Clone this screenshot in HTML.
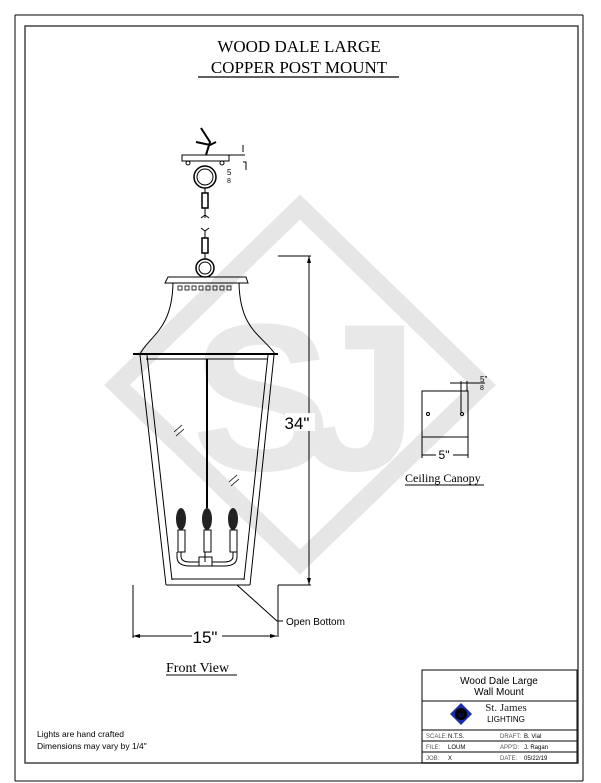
<!DOCTYPE html>
<html><head><meta charset="utf-8"><style>
html,body{margin:0;padding:0;background:#fff;}
svg{display:block;}
</style></head><body>
<svg width="601" height="783" viewBox="0 0 601 783" xmlns="http://www.w3.org/2000/svg" font-family="Liberation Sans, sans-serif">
<!-- watermark -->
<polygon points="300,207 483,385 300,562 117,385" fill="none" stroke="#e6e6e6" stroke-width="18"/>
<text x="290" y="470" text-anchor="middle" font-size="210" font-weight="bold" fill="#e8e8e8" letter-spacing="-30">SJ</text>
<!-- frames -->
<line x1="15" y1="15" x2="583" y2="15" stroke="#000" stroke-width="1"/>
<line x1="15" y1="15" x2="15" y2="781" stroke="#000" stroke-width="1"/>
<line x1="15" y1="781" x2="583" y2="781" stroke="#000" stroke-width="1"/>
<line x1="583" y1="15" x2="583" y2="781" stroke="#000" stroke-width="1"/>
<rect x="25" y="26" width="553" height="737" fill="none" stroke="#444" stroke-width="1.5"/>
<!-- title -->
<text x="299" y="52" text-anchor="middle" font-family="Liberation Serif, serif" font-size="17">WOOD DALE LARGE</text>
<text x="299" y="73" text-anchor="middle" font-family="Liberation Serif, serif" font-size="17">COPPER POST MOUNT</text>
<line x1="198" y1="77" x2="399" y2="77" stroke="#000" stroke-width="1.2"/>

<g stroke="#000" fill="none" stroke-width="1">
<!-- hook -->
<path d="M201,128 L210,142 L206,155 M196,142 L210,145 L216,142" stroke-width="2"/>
<rect x="182" y="155" width="47" height="6"/>
<line x1="229" y1="155" x2="245" y2="155"/>
<circle cx="188" cy="163" r="2"/><circle cx="222" cy="163" r="2"/>
<path d="M243,145 V152 M243,162 H246 V170"/>
<circle cx="205" cy="177" r="11" stroke-width="1.5"/><circle cx="205" cy="177" r="8"/>
<rect x="202" y="193" width="6" height="15" stroke-width="1.5"/>
<path d="M205,188 V193 M205,208 V218 M201,218 L205,215 L209,218"/>
<path d="M201,228 L205,231 L209,228 M205,231 V238"/>
<rect x="202" y="238" width="6" height="15" stroke-width="1.5"/>
<path d="M205,253 V259"/>
<circle cx="205" cy="268" r="9" stroke-width="1.5"/><circle cx="205" cy="268" r="6"/>
<!-- cap -->
<path d="M168,277 H246 L248,283 H165 Z"/>
<g stroke-width="0.8">
<rect x="178" y="286" width="4" height="4"/><rect x="185" y="286" width="4" height="4"/><rect x="192" y="286" width="4" height="4"/><rect x="199" y="286" width="4" height="4"/><rect x="206" y="286" width="4" height="4"/><rect x="213" y="286" width="4" height="4"/><rect x="220" y="286" width="4" height="4"/><rect x="227" y="286" width="4" height="4"/>
</g>
<path d="M173,283 C172,330 150,335 140,354"/>
<path d="M239,283 C240,330 262,335 275,354"/>
<line x1="133" y1="354" x2="278" y2="354" stroke-width="2"/>
<!-- frame -->
<path d="M140,355 L166,585 M147,355 L172,580 M274,355 L250,585 M268,355 L244,580 M146,359 H268 M172,579 H244 M166,585 H250"/>
<line x1="207" y1="359" x2="207" y2="508" stroke-width="2"/>
<path d="M174,432 L182,425 M176,436 L184,429" stroke-width="0.8"/>
<path d="M229,482 L237,475 M231,486 L239,479" stroke-width="0.8"/>
<!-- candles -->
<rect x="178" y="530" width="7" height="22"/><rect x="204" y="530" width="7" height="22"/><rect x="230" y="530" width="7" height="22"/>
<path d="M181,552 V556 Q181,562 190,562 H199 M233,552 V556 Q233,562 224,562 H212 M177,552 V557 Q177,566 190,566 H199 M237,552 V557 Q237,566 224,566 H212"/>
<rect x="199" y="557" width="13" height="9"/>
<path d="M205,552 V562"/>
</g>
<ellipse cx="181" cy="519" rx="5" ry="11" fill="#222"/>
<ellipse cx="207" cy="519" rx="5" ry="11" fill="#222"/>
<ellipse cx="233" cy="519" rx="5" ry="11" fill="#222"/>
<text x="227" y="175" font-size="8" transform="rotate(0)">5</text>
<text x="227" y="183" font-size="7">8</text>

<!-- dims -->
<g stroke="#000" fill="none" stroke-width="1">
<path d="M278,256 H311 M309,256 V585 M278,585 V637 M278,585 H311"/>
<path d="M133,585 V638 M133,636 H277"/>
<path d="M237,585 L277,621 H283"/>
</g>
<polygon points="309,256 307,263 311,263" fill="#000"/>
<polygon points="309,585 307,578 311,578" fill="#000"/>
<polygon points="133,636 140,634 140,638" fill="#000"/>
<polygon points="277,636 270,634 270,638" fill="#000"/>
<rect x="285" y="413" width="30" height="18" fill="#fff"/>
<text x="297" y="429" text-anchor="middle" font-size="17" font-weight="300">34"</text>
<rect x="192" y="627" width="30" height="18" fill="#fff"/>
<text x="205" y="643" text-anchor="middle" font-size="17">15"</text>
<text x="286" y="625" font-size="10">Open Bottom</text>
<text x="166" y="672" font-family="Liberation Serif, serif" font-size="14">Front View</text>
<line x1="166" y1="675" x2="237" y2="675" stroke="#000"/>

<!-- ceiling canopy -->
<g stroke="#000" fill="none" stroke-width="1">
<rect x="422" y="391" width="46" height="46"/>
<path d="M422,437 V458 M468,437 V458 M422,455 H468 M461,381 V413 M467,381 V391 M450,383 H485"/>
<circle cx="428" cy="414" r="1.5"/><circle cx="462" cy="414" r="1.5"/>
</g>
<rect x="436" y="448" width="17" height="12" fill="#fff"/>
<text x="444" y="459" text-anchor="middle" font-size="12">5"</text>
<text x="480" y="382" font-size="8">5"</text>
<text x="480" y="390" font-size="7">8</text>
<text x="405" y="482" font-family="Liberation Serif, serif" font-size="12">Ceiling Canopy</text>
<line x1="405" y1="485" x2="484" y2="485" stroke="#000"/>

<!-- notes -->
<text x="37" y="737" font-size="8.5">Lights are hand crafted</text>
<text x="37" y="749" font-size="8.5">Dimensions may vary by 1/4"</text>

<!-- title block -->
<g stroke="#000" fill="none" stroke-width="1">
<rect x="422" y="670" width="155" height="93"/>
<path d="M422,701 H577 M422,730 H577 M422,741 H577 M422,752 H577"/>
</g>
<text x="499" y="684" text-anchor="middle" font-size="10">Wood Dale Large</text>
<text x="499" y="695" text-anchor="middle" font-size="10">Wall Mount</text>
<polygon points="461,703 472,714 461,725 450,714" fill="#1a2ea8"/>
<circle cx="461" cy="714" r="6" fill="#000"/>
<text x="461" y="717" text-anchor="middle" font-size="6" fill="#1a2ea8" font-family="Liberation Serif, serif">SJ</text>
<text x="506" y="711" text-anchor="middle" font-family="Liberation Serif, serif" font-size="11" fill="#222">St. James</text>
<text x="506" y="722" text-anchor="middle" font-size="8">LIGHTING</text>
<g font-size="6">
<text x="426" y="738" fill="#555">SCALE:</text><text x="448" y="738">N.T.S.</text>
<text x="500" y="738" fill="#555">DRAFT:</text><text x="524" y="738">B. Vial</text>
<text x="426" y="749" fill="#555">FILE:</text><text x="448" y="749">LOUM</text>
<text x="500" y="749" fill="#555">APP'D:</text><text x="524" y="749">J. Ragan</text>
<text x="426" y="760" fill="#555">JOB:</text><text x="448" y="760">X</text>
<text x="500" y="760" fill="#555">DATE:</text><text x="524" y="760">05/22/19</text>
</g>
</svg>
</body></html>
